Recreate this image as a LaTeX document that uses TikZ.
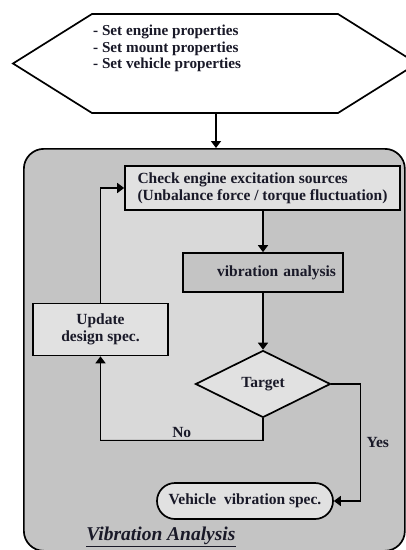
\documentclass[tikz,border=0pt]{standalone}
\usepackage{fontspec}
\setmainfont{Liberation Serif}
\usetikzlibrary{arrows.meta,shapes.geometric}
\definecolor{bgdark}{RGB}{196,196,196}
\definecolor{bglight}{RGB}{217,217,217}
\definecolor{boxfill}{RGB}{225,225,225}
\definecolor{txt}{RGB}{25,25,40}
\begin{document}
\begin{tikzpicture}[x=1pt,y=-1pt, line width=1.7pt,
  >={Triangle[length=7pt,width=10pt]},
  txtfont/.style={text=txt, font=\bfseries\fontsize{15.5}{17}\selectfont},
  box/.style={draw, fill=boxfill, txtfont, inner sep=0pt},
  lbl/.style={txtfont}]
\useasboundingbox (0,0) rectangle (406,550);
\clip (0,0) rectangle (406,550);
% input hexagon
\draw[fill=white] (92,14) -- (338,14) -- (417,63.5) -- (338,113) -- (92,113) -- (13,63.5) -- cycle;
\node[lbl, align=left, anchor=north west, font=\bfseries\fontsize{15.2}{16.5}\selectfont] (props) at (89,21)
  {- Set engine properties\\- Set mount properties\\- Set vehicle properties};
\coordinate (hexbot) at (216,113);
% frame
\node[draw, fill=bgdark, rounded corners=20pt, minimum width=381pt, minimum height=402pt,
  anchor=north west, inner sep=0pt] (frame) at (23,148) {};
\fill[bglight] (100,188) rectangle (263,439);
% boxes
\node[box, minimum width=275pt, minimum height=44pt, align=left] (check) at (262.5,188)
  {Check engine excitation sources\\(Unbalance force / torque fluctuation)};
\node[box, fill=bgdark, minimum width=160pt, minimum height=39pt, text width=146pt, inner xsep=7pt, align=right] (vib) at (263,272.5)
  {vibration analysis};
\node[box, diamond, minimum width=135pt, minimum height=67pt, aspect=2] (target) at (263,384) {Target};
\node[box, minimum width=135pt, minimum height=52pt, align=center] (update) at (100.5,329.5)
  {Update\\design spec.};
\node[box, rounded corners=18pt, minimum width=176pt, minimum height=36pt] (spec) at (245,501)
  {Vehicle\ \ vibration spec.};
\node[lbl, font=\bfseries\itshape\fontsize{19.5}{21}\selectfont] (title) at (161,537) {\underline{Vibration Analysis}};
% connectors
\draw[->] (hexbot) -- (hexbot |- frame.north);
\draw[->] (vib.north |- check.south) -- (vib.north);
\draw[->] (vib.south) -- (target.north);
\draw[->] (target.south) -- ++(0,22) -| node[lbl, pos=0.25, above=-1pt] {No} (update.south);
\draw[->] (update.north) |- (check.west);
\draw[->] (target.east) -- ++(29,0) |- node[lbl, pos=0.25, right=2pt] {Yes} (spec.east);
\end{tikzpicture}
\end{document}
